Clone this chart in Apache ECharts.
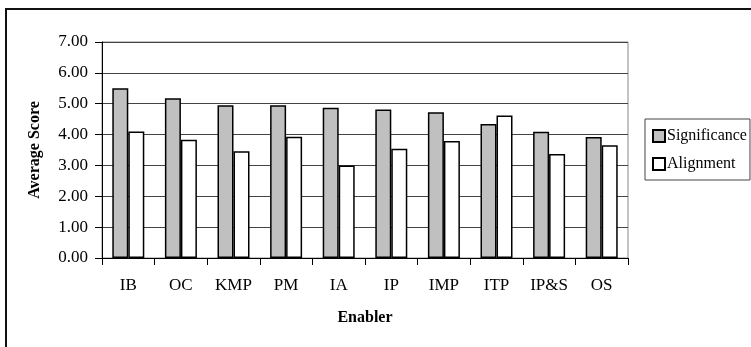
<!DOCTYPE html>
<html>
<head>
<meta charset="utf-8">
<script src="https://cdn.jsdelivr.net/npm/echarts@6/dist/echarts.min.js"></script>
<style>
  html, body { margin: 0; padding: 0; background: #fff; }
  #chart { width: 751px; height: 347px; }
</style>
</head>
<body>
<div id="chart"></div>
<script>
// Average scores per enabler
const enablers = ['IB', 'OC', 'KMP', 'PM', 'IA', 'IP', 'IMP', 'ITP', 'IP&S', 'OS'];
const significance = [5.50, 5.18, 4.95, 4.95, 4.87, 4.81, 4.72, 4.34, 4.09, 3.92];
const alignment = [4.10, 3.83, 3.46, 3.93, 3.00, 3.54, 3.79, 4.62, 3.37, 3.65];

const serif = '"Liberation Serif", "Times New Roman", serif';
const chart = echarts.init(document.getElementById('chart'));

chart.setOption({
  animation: false,
  textStyle: { fontFamily: serif, color: '#000' },
  graphic: [{
    type: 'rect',
    shape: { x: 6, y: 9, width: 800, height: 400 },
    style: { fill: 'none', stroke: '#111', lineWidth: 2 },
    silent: true
  }],
  grid: {
    left: 102, right: 123, top: 42, bottom: 89,
    show: true, borderColor: '#888', borderWidth: 1, backgroundColor: 'transparent'
  },
  legend: {
    orient: 'vertical',
    left: 645, top: 119,
    padding: [9, 3, 8, 7],
    itemGap: 12,
    itemWidth: 12, itemHeight: 12,
    borderColor: '#444', borderWidth: 1,
    icon: 'rect',
    textStyle: { fontFamily: serif, fontSize: 16, color: '#000', padding: [0, 0, 0, -3] },
    data: ['Significance', 'Alignment']
  },
  xAxis: {
    type: 'category',
    data: enablers,
    name: 'Enabler',
    nameLocation: 'middle',
    nameGap: 52,
    nameTextStyle: { fontFamily: serif, fontSize: 16, fontWeight: 'bold', color: '#000' },
    axisLine: { lineStyle: { color: '#000', width: 1 } },
    axisTick: { show: true, length: 7, alignWithLabel: false, lineStyle: { color: '#000' } },
    axisLabel: { fontFamily: serif, fontSize: 17, color: '#000', margin: 19 }
  },
  yAxis: {
    type: 'value',
    min: 0, max: 7, interval: 1,
    name: 'Average Score',
    nameLocation: 'middle',
    nameGap: 59,
    nameRotate: 90,
    nameTextStyle: { fontFamily: serif, fontSize: 16, fontWeight: 'bold', color: '#000' },
    axisLine: { show: true, lineStyle: { color: '#000', width: 1 } },
    axisTick: { show: true, length: 7, lineStyle: { color: '#000' } },
    axisLabel: {
      fontFamily: serif, fontSize: 17, color: '#000', margin: 14,
      formatter: v => v.toFixed(2)
    },
    splitLine: { show: true, lineStyle: { color: '#444', width: 1 } }
  },
  series: [
    {
      name: 'Significance',
      type: 'bar',
      data: significance,
      barWidth: 16,
      barGap: '0%',
      itemStyle: { color: '#c0c0c0', borderColor: '#000', borderWidth: 1.5 }
    },
    {
      name: 'Alignment',
      type: 'bar',
      data: alignment,
      barWidth: 16,
      barGap: '0%',
      itemStyle: { color: '#fff', borderColor: '#000', borderWidth: 1.5 }
    }
  ]
});
</script>
</body>
</html>
